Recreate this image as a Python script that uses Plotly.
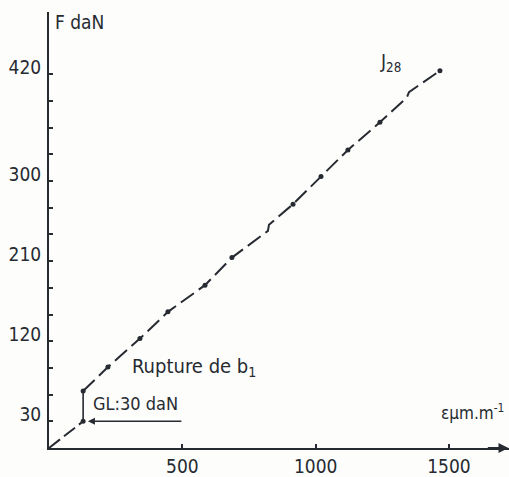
import plotly.graph_objects as go

# Strain (µm/m) and load (daN)
strain = [0, 128, 128, 221, 341, 446, 585, 686, 821, 825, 915, 1020, 1121, 1241, 1342, 1350, 1466]
load   = [0, 30, 64, 91, 123, 153, 183, 214, 244, 251, 274, 305, 335, 366, 394, 400, 424]
dot_idx = [1, 2, 3, 4, 5, 6, 7, 10, 11, 12, 13, 16]

y_tickvals = [30, 60, 90, 120, 150, 180, 210, 240, 270, 300, 330, 360, 390, 420]
y_labels = {30: "30", 120: "120", 210: "210", 300: "300", 420: "420"}
x_tickvals = [500, 1000, 1500]
x_ticktext = ["500", "1000", "1500"]

INK = "#262b31"
FONT = "DejaVu Sans Condensed, Liberation Sans Narrow, DejaVu Sans, sans-serif"

fig = go.Figure()
# first dashed segment up to the first load step
fig.add_trace(go.Scatter(x=strain[:2], y=load[:2], mode="lines",
                         line=dict(color=INK, width=2, dash="14px,5px"), hoverinfo="skip"))
# GL jump (solid)
fig.add_trace(go.Scatter(x=strain[1:3], y=load[1:3], mode="lines",
                         line=dict(color=INK, width=1.6), hoverinfo="skip"))
# rest of curve
fig.add_trace(go.Scatter(x=strain[2:], y=load[2:], mode="lines",
                         line=dict(color=INK, width=2, dash="16px,6px"), hoverinfo="skip"))
fig.add_trace(go.Scatter(x=[strain[i] for i in dot_idx], y=[load[i] for i in dot_idx],
                         mode="markers", marker=dict(color=INK, size=5), hoverinfo="skip"))

ann = []
ann.append(dict(x=15, y=479, text="F daN", xanchor="left", yanchor="middle", showarrow=False,
                font=dict(size=19, color=INK, family=FONT)))
ann.append(dict(x=1234, y=433, text="J<sub>28</sub>", xanchor="left", yanchor="middle", showarrow=False,
                font=dict(size=19, color=INK, family=FONT)))
ann.append(dict(x=304, y=91, text="Rupture de b<sub>1</sub>", xanchor="left", yanchor="middle", showarrow=False,
                font=dict(size=20, color=INK, family=FONT)))
ann.append(dict(x=157, y=50, text="GL:30 daN", xanchor="left", yanchor="middle", showarrow=False,
                font=dict(size=18, color=INK, family=FONT)))
ann.append(dict(x=1712, y=40, text="εµm.m<sup>-1</sup>", xanchor="right", yanchor="middle", showarrow=False,
                font=dict(size=17, color=INK, family=FONT)))
# left arrow under GL label
ann.append(dict(x=146, y=30, ax=502, ay=30, xref="x", yref="y", axref="x", ayref="y",
                text="", showarrow=True, arrowhead=2, arrowsize=1, arrowwidth=1.4, arrowcolor=INK))
# x-axis arrow head
ann.append(dict(x=1723, y=0, ax=1640, ay=0, xref="x", yref="y", axref="x", ayref="y",
                text="", showarrow=True, arrowhead=2, arrowsize=1, arrowwidth=2, arrowcolor=INK))

fig.update_layout(
    width=509, height=477,
    margin=dict(l=49, r=0, t=12, b=29),
    paper_bgcolor="#fdfdfc", plot_bgcolor="#fdfdfc",
    showlegend=False,
    annotations=ann,
    xaxis=dict(range=[0, 1725], showgrid=False, zeroline=False, showline=True,
               linecolor=INK, linewidth=2, ticks="inside", ticklen=4, tickwidth=1.5,
               tickcolor=INK, tickvals=x_tickvals, ticktext=x_ticktext,
               tickfont=dict(size=19, color=INK, family=FONT), ticklabelstandoff=0),
    yaxis=dict(range=[0, 490], showgrid=False, zeroline=False, showline=True,
               linecolor=INK, linewidth=2, ticks="inside", ticklen=4, tickwidth=1.5,
               tickcolor=INK, tickvals=y_tickvals,
               ticktext=[y_labels.get(v, "") for v in y_tickvals],
               tickfont=dict(size=19, color=INK, family=FONT), ticklabelstandoff=2,
               ticklabelshift=-7),
)

fig.write_html("out.html")
